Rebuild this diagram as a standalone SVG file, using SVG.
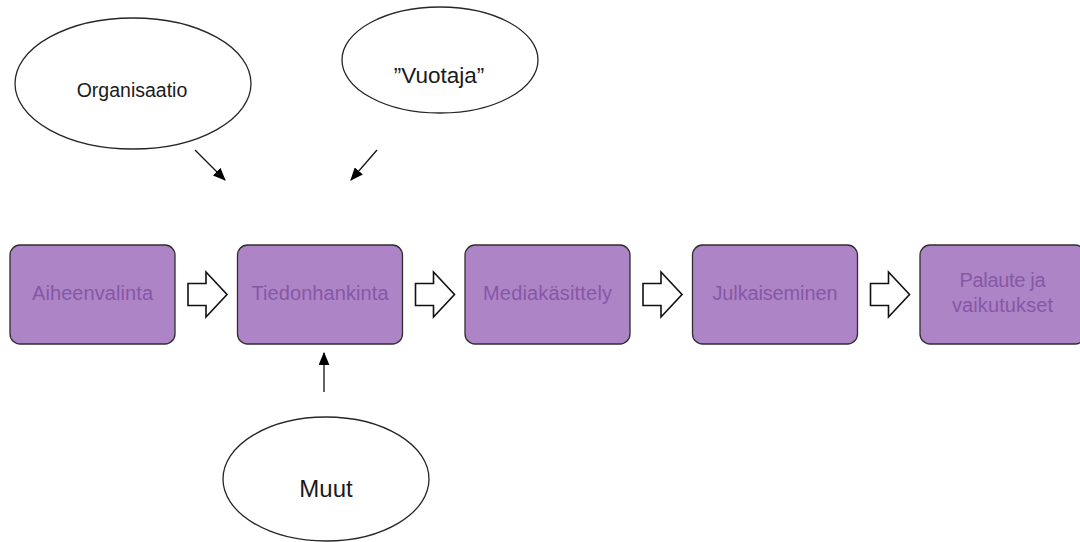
<svg xmlns="http://www.w3.org/2000/svg" xmlns:xlink="http://www.w3.org/1999/xlink" width="1080" height="542" viewBox="0 0 1080 542">
  <style>
    .step { fill: #ad84c6; stroke: #2e2e2e; stroke-width: 1.3; }
    .step-label { font-family: "Liberation Sans", Arial, sans-serif; font-size: 20px; fill: #8757a6; text-anchor: middle; }
    .source { fill: #ffffff; stroke: #262626; stroke-width: 1.3; }
    .source-label { font-family: "Liberation Sans", Arial, sans-serif; fill: #1a1a1a; text-anchor: middle; }
    .flow { fill: #ffffff; stroke: #111111; stroke-width: 1.6; stroke-linejoin: miter; }
    .feed { stroke: #111111; stroke-width: 1.3; fill: none; marker-end: url(#head); }
  </style>
  <defs>
    <marker id="head" viewBox="0 0 12 10" refX="11" refY="5" markerWidth="13" markerHeight="11" markerUnits="userSpaceOnUse" orient="auto">
      <path d="M0,0 L12,5 L0,10 Z" fill="#000000"/>
    </marker>
    <!-- hollow block arrow between process steps -->
    <path id="step-arrow" d="M188,283.5 H206 V272 L227,294.5 L206,317 V305.5 H188 Z"/>
  </defs>

  <!-- process steps -->
  <g id="aiheenvalinta">
    <rect class="step" x="10" y="245" width="165" height="99" rx="10"/>
    <text class="step-label" x="92.5" y="300" textLength="121" lengthAdjust="spacing">Aiheenvalinta</text>
  </g>
  <g id="tiedonhankinta">
    <rect class="step" x="237.5" y="245" width="165" height="99" rx="10"/>
    <text class="step-label" x="320" y="300" textLength="137" lengthAdjust="spacing">Tiedonhankinta</text>
  </g>
  <g id="mediakasittely">
    <rect class="step" x="465" y="245" width="165" height="99" rx="10"/>
    <text class="step-label" x="547.5" y="300" textLength="129" lengthAdjust="spacing">Mediakäsittely</text>
  </g>
  <g id="julkaiseminen">
    <rect class="step" x="692.5" y="245" width="165" height="99" rx="10"/>
    <text class="step-label" x="775" y="300" textLength="125" lengthAdjust="spacing">Julkaiseminen</text>
  </g>
  <g id="palaute">
    <rect class="step" x="920" y="245" width="165" height="99" rx="10"/>
    <text class="step-label" x="1002.5" y="287" textLength="86" lengthAdjust="spacing">Palaute ja</text>
    <text class="step-label" x="1002.5" y="311.5" textLength="101" lengthAdjust="spacing">vaikutukset</text>
  </g>

  <!-- information sources -->
  <g id="organisaatio">
    <ellipse class="source" cx="133" cy="83.5" rx="118" ry="65.5"/>
    <text class="source-label" x="132" y="97" font-size="19.5">Organisaatio</text>
  </g>
  <g id="vuotaja">
    <ellipse class="source" cx="440" cy="60" rx="98" ry="53"/>
    <text class="source-label" x="439" y="83" font-size="22.5">”Vuotaja”</text>
  </g>
  <g id="muut">
    <ellipse class="source" cx="326" cy="479" rx="103" ry="62"/>
    <text class="source-label" x="326" y="497" font-size="24">Muut</text>
  </g>

  <!-- connectors -->
  <g id="connectors">
    <use xlink:href="#step-arrow" href="#step-arrow" class="flow"/>
    <use xlink:href="#step-arrow" href="#step-arrow" class="flow" transform="translate(227.5,0)"/>
    <use xlink:href="#step-arrow" href="#step-arrow" class="flow" transform="translate(455,0)"/>
    <use xlink:href="#step-arrow" href="#step-arrow" class="flow" transform="translate(682.5,0)"/>
    <line class="feed" x1="195" y1="150" x2="225" y2="180"/>
    <line class="feed" x1="377" y1="150" x2="351" y2="180"/>
    <line class="feed" x1="324" y1="392" x2="324" y2="353"/>
  </g>
</svg>
